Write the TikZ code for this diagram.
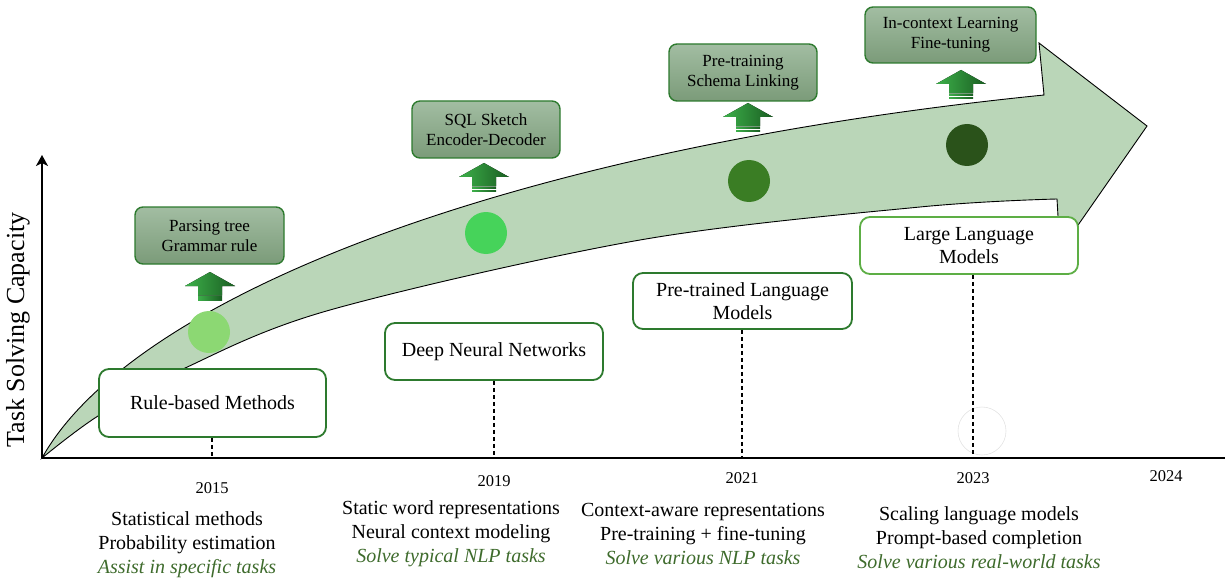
\documentclass[tikz,border=0pt]{standalone}
\usepackage{fontspec}
\setmainfont{Liberation Serif}
\usetikzlibrary{arrows.meta}
\definecolor{arrowfill}{HTML}{BAD6B8}
\definecolor{cA}{HTML}{8CD873}
\definecolor{cB}{HTML}{46D35A}
\definecolor{cC}{HTML}{3A7D24}
\definecolor{cD}{HTML}{2A521A}
\definecolor{boxgreen}{HTML}{2D7A2E}
\definecolor{llmgreen}{HTML}{5DAE45}
\definecolor{tbtop}{HTML}{A2BDA2}
\definecolor{tbbot}{HTML}{7B9B79}
\definecolor{itgreen}{HTML}{3E6B2C}
\definecolor{agl}{HTML}{3DB04A}
\definecolor{agd}{HTML}{1A5E22}
\tikzset{
  topbox/.style={draw=boxgreen, line width=1.4pt, rounded corners=8pt, top color=tbtop, bottom color=tbbot,
    align=center, inner sep=0pt, minimum width=148pt, minimum height=57pt, font=\fontsize{17}{20}\selectfont},
  botbox/.style={draw=boxgreen, line width=1.8pt, rounded corners=10pt, fill=white,
    align=center, inner sep=0pt, minimum width=218pt, minimum height=57pt, font=\fontsize{20}{23}\selectfont},
  dot/.style={circle, inner sep=0pt, minimum size=42pt},
  year/.style={font=\fontsize{16.5}{19}\selectfont},
  desc/.style={align=center, font=\fontsize{20}{24}\selectfont},
  dashline/.style={dashed, dash pattern=on 4pt off 3pt, line width=1.6pt},
  uparr/.pic={
    \fill[left color=agl, right color=agd] (-25,14) -- (0,0) -- (25,14) -- (12,14) -- (12,23.5) -- (-12,23.5) -- (-12,14) -- cycle;
    \fill[left color=agl, right color=agd] (-12,24.8) rectangle (12,26);
    \fill[left color=agl, right color=agd] (-12,27.3) rectangle (12,28.5);
  }
}
\begin{document}
\begin{tikzpicture}[x=1pt, y=-1pt]
\useasboundingbox (0,0) rectangle (1225,580);
% big arrow
\filldraw[fill=arrowfill, draw=black, line width=0.9pt, line join=miter]
  (42,458) .. controls (130,300) and (500,150) .. (1044,95)
  -- (1039,43) -- (1147,126) -- (1060,251) -- (1057,199)
  -- plot[smooth, tension=0.55] coordinates {(1057,199) (920,207) (640,240) (330,310) (183,369) (98,416) (42,458)} -- cycle;
% dots
\node[dot, fill=cA] (d1) at (209,332) {};
\node[dot, fill=cB] (d2) at (486,233) {};
\node[dot, fill=cC] (d3) at (749,181) {};
\node[dot, fill=cD] (d4) at (967,145) {};
% small arrows
\pic at (210,272) {uparr};
\pic at (484,163) {uparr};
\pic at (748,103) {uparr};
\pic at (961,70) {uparr};
% top boxes
\node[topbox, minimum width=149pt] (t1) at (209.5,235.5) {Parsing tree\\Grammar rule};
\node[topbox] (t2) at (486,129.5) {SQL Sketch\\Encoder-Decoder};
\node[topbox] (t3) at (743,72.5) {Pre-training\\Schema Linking};
\node[topbox, minimum width=171pt, minimum height=56pt] (t4) at (950.5,35) {In-context Learning\\Fine-tuning};
% axes
\coordinate (O) at (42,458);
\coordinate (ytop) at (42,155);
\coordinate (xend) at (1225,458);
\draw[line width=2.5pt, -{Stealth[length=11pt, width=12pt, inset=3pt]}] (O) -- (ytop);
\draw[line width=2.5pt] (O) -- (xend);
\node[rotate=90, font=\fontsize{26}{30}\selectfont] (ylab) at (18,330) {Task Solving Capacity};
% tick coordinates
\coordinate (k1) at (212,458);
\coordinate (k2) at (494,458);
\coordinate (k3) at (742,458);
\coordinate (k4) at (973,458);
% ghost circle
\node[circle, draw=gray!22, line width=0.6pt, minimum size=48pt, inner sep=0pt] (ghost) at (982,431) {};
% bottom boxes
\node[botbox, minimum width=227pt, minimum height=68pt] (b1) at (212.5,403) {Rule-based Methods};
\node[botbox] (b2) at (494,351.5) {Deep Neural Networks};
\node[botbox, minimum width=219pt, minimum height=56pt] (b3) at (742.5,301) {Pre-trained Language\\Models};
\node[botbox, draw=llmgreen] (b4) at (969,245.5) {Large Language\\Models};
% dashed lines
\draw[dashline] (b1.south -| k1) -- (k1);
\draw[dashline] (b2.south -| k2) -- (k2);
\draw[dashline] (b3.south -| k3) -- (k3);
\draw[dashline] (b4.south -| k4) -- (k4);
% years
\node[year] (y1) at (212,488) {2015};
\node[year] (y2) at (494,481) {2019};
\node[year] (y3) at (742,478) {2021};
\node[year] (y4) at (973,478) {2023};
\node[year] (y5) at (1166,476) {2024};
% descriptions
\node[desc] (e1) at (187,545) {Statistical methods\\Probability estimation\\\textcolor{itgreen}{\itshape Assist in specific tasks}};
\node[desc] (e2) at (451,534) {Static word representations\\Neural context modeling\\\textcolor{itgreen}{\itshape Solve typical NLP tasks}};
\node[desc] (e3) at (703,534) {Context-aware representations\\Pre-training + fine-tuning\\\textcolor{itgreen}{\itshape Solve various NLP tasks}};
\node[desc] (e4) at (979,538) {Scaling language models\\Prompt-based completion\\\textcolor{itgreen}{\itshape Solve various real-world tasks}};
\end{tikzpicture}
\end{document}
